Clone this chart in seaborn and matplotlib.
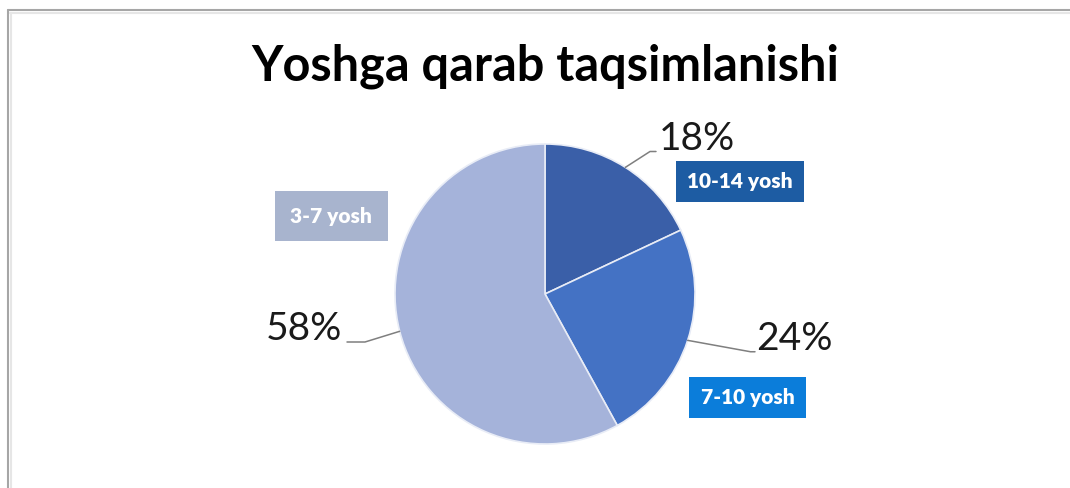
import numpy as np
import matplotlib
matplotlib.use("Agg")
import matplotlib.pyplot as plt
from matplotlib.lines import Line2D
import seaborn as sns

# data
groups = ["10-14 yosh", "7-10 yosh", "3-7 yosh"]
shares = [18, 24, 58]
slice_colors = ["#3A5FA8", "#4472C4", "#A5B3DA"]
box_colors = ["#1D5CA3", "#0B7DDA", "#A8B4CE"]
title = "Yoshga qarab taqsimlanishi"

sns.set_theme(style="white")
plt.rcParams["font.family"] = ["Lato", "DejaVu Sans"]

fig = plt.figure(figsize=(10.7, 4.88), dpi=100, linewidth=0)
fig.patch.set_facecolor("white")

# pie axes: centre ~ (545, 294) px, radius ~150 px
W, H = 1070, 488
cx, cy, r = 545, 294, 150
ax = fig.add_axes([(cx - r) / W, (H - cy - r) / H, 2 * r / W, 2 * r / H])

wedges, _ = ax.pie(shares, colors=sns.color_palette(slice_colors), startangle=90,
                   counterclock=False, radius=1.0,
                   wedgeprops=dict(edgecolor="#E8ECF6", linewidth=1.2))
ax.set_xlim(-1, 1)
ax.set_ylim(-1, 1)
ax.set_aspect("equal")
ax.axis("off")

# label layout (data units of the pie axes)
pct_pos = [(0.76, 1.03, "left"), (1.41, -0.30, "left"), (-1.35, -0.235, "right")]
line_end = [(0.70, 0.95, 0.74), (1.37, -0.385, 1.40), (-1.20, -0.32, -1.32)]
box_pos = [(1.30, 0.75), (1.35, -0.69), (-1.425, 0.52)]
box_pad = [0.55, 0.55, 0.75]

for w, s, (px, py, ha), (ex, ey, tx), (bx, by), bc, g, bp in zip(
        wedges, shares, pct_pos, line_end, box_pos, box_colors, groups, box_pad):
    ang = np.deg2rad((w.theta1 + w.theta2) / 2)
    x0, y0 = np.cos(ang), np.sin(ang)
    ax.add_line(Line2D([x0, ex, tx], [y0, ey, ey], color="#7F7F7F", lw=1.1,
                       clip_on=False))
    ax.text(px, py, f"{s}%", ha=ha, va="center", fontsize=28, color="#1A1A1A",
            clip_on=False)
    ax.text(bx, by, g, ha="center", va="center", fontsize=15, fontweight="heavy",
            color="white", clip_on=False,
            bbox=dict(boxstyle=f"square,pad={bp}", fc=bc, ec="none"))

fig.text(545 / W, 1 - 66 / H, title, ha="center", va="center", fontsize=35,
         fontweight="bold", color="black")

# frame lines of the slide
fig.add_artist(Line2D([8 / W, 1], [1 - 10 / H, 1 - 10 / H], color="#A6A6A6", lw=1.5))
fig.add_artist(Line2D([8 / W, 8 / W], [0, 1 - 10 / H], color="#A6A6A6", lw=1.5))
fig.add_artist(Line2D([10 / W, 1], [1 - 13 / H, 1 - 13 / H], color="#E6E6E6", lw=1.5))
fig.add_artist(Line2D([11 / W, 11 / W], [0, 1 - 13 / H], color="#E6E6E6", lw=1.5))

fig.savefig("out.png", dpi=100, facecolor="white")
